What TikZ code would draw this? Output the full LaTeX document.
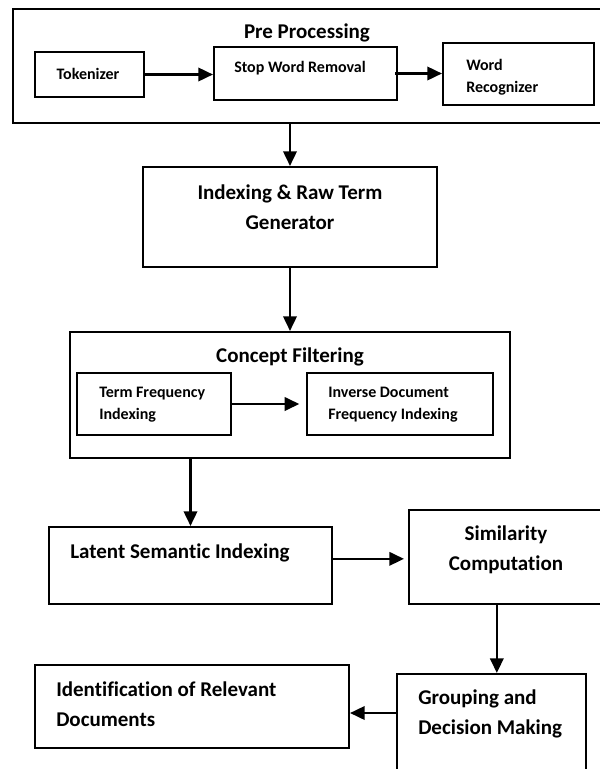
\documentclass[tikz,border=0pt]{standalone}
\usepackage{fontspec}
\setmainfont{Carlito}[Ligatures=NoCommon]
\usetikzlibrary{arrows.meta}

\begin{document}
\begin{tikzpicture}[x=0.75pt,y=-0.75pt,
    box/.style 2 args={draw,line width=1.5pt,inner sep=0pt,
      minimum width=#1*0.75pt,minimum height=#2*0.75pt},
    big/.style={font=\fontsize{15.75}{22.5}\selectfont\bfseries,inner sep=0pt},
    small/.style={font=\fontsize{12}{16.5}\selectfont\bfseries,inner sep=0pt},
    flow/.style={-{Triangle[length=11pt,width=10pt]},line width=1.9pt}]
    \useasboundingbox (0,0) rectangle (600,769);
    \clip (0,0) rectangle (600,769);
    % pre processing stage
    \node[box={592}{114},line width=1.9pt] (pre) at (309,66) {};
    \node[big] (preT) at (307,33) {Pre Processing};
    \node[box={109}{45}] (tok) at (89.5,74.5) {};
    \node[small] (tokT) at (88,74) {Tokenizer};
    \node[box={183}{53}] (stop) at (305.5,73.5) {};
    \node[small] (stopT) at (300,68) {Stop Word Removal};
    \node[box={151}{62}] (word) at (518.5,74) {};
    \node[small,align=left,anchor=west] (wordT) at (466,77) {Word\\Recognizer};
    \draw[flow] (tok.east) -- (tok.east -| stop.west);
    \draw[flow] ([xshift=-2pt]stop.east) -- (stop.east -| word.west);
    % indexing
    \node[box={294}{100}] (idx) at (290,217) {};
    \node[big,align=center] (idxT) at (290,207) {Indexing \& Raw Term\\Generator};
    \draw[flow] (idx.north |- pre.south) -- (idx.north);
    % concept filtering
    \node[box={440}{126}] (cf) at (290,395) {};
    \node[big] (cfT) at (290,357) {Concept Filtering};
    \node[box={154}{62}] (tf) at (154,404) {};
    \node[small,align=left,anchor=west] (tfT) at (99,405) {Term Frequency\\Indexing};
    \node[box={186}{62}] (idf) at (400,404) {};
    \node[small,align=left,anchor=west] (idfT) at (328,405) {Inverse Document\\Frequency Indexing};
    \draw[flow] (idx.south) -- (idx.south |- cf.north);
    \draw[flow,shorten >=5pt] (tf.east) -- (tf.east -| idf.west);
    % lsi and similarity
    \node[box={283}{77}] (lsi) at (190.5,565.5) {};
    \node[big,anchor=west] (lsiT) at (70,553) {Latent Semantic Indexing};
    \node[box={201}{94}] (sim) at (509.5,557) {};
    \node[big,align=center] (simT) at (506,550) {Similarity\\Computation};
    \draw[flow] (lsi.north |- cf.south) -- (lsi.north);
    \draw[flow,shorten >=3pt] ([yshift=5pt]lsi.east) -- ([yshift=5pt]lsi.east -| sim.west);
    % grouping and result
    \node[box={189}{106}] (grp) at (491.5,727) {};
    \node[big,align=left,anchor=west] (grpT) at (418,713.5) {Grouping and\\Decision Making};
    \node[box={314}{83}] (ident) at (192,706.5) {};
    \node[big,align=left,anchor=west] (identT) at (56,704) {Identification of Relevant\\Documents};
    \coordinate (gtop) at ([xshift=4pt]grp.north);
    \coordinate (gleft) at ([yshift=10.5pt]grp.west);
    \draw[flow] (gtop |- sim.south) -- (gtop);
    \draw[flow] (gleft) -- (gleft -| ident.east);
\end{tikzpicture}
\end{document}
